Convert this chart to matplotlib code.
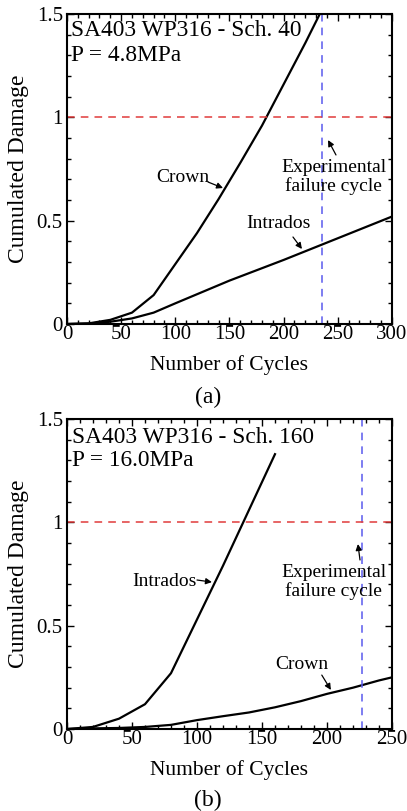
import matplotlib
matplotlib.use("Agg")
from matplotlib import pyplot as plt
from matplotlib.ticker import MultipleLocator

plt.rcParams['font.family'] = ['Liberation Serif', 'DejaVu Serif']
FS = 14          # annotation labels
FS_TICK = 15
FS_LAB = 15.5
FS_TITLE = 16.8

# panel (a): Sch. 40, P = 4.8 MPa
cyc_a = [0, 20, 40, 60, 80, 100, 120, 140, 160, 180, 200, 220, 240]
crown_a = [0, 0.003, 0.02, 0.055, 0.14, 0.29, 0.44, 0.605, 0.78, 0.96, 1.16, 1.36, 1.57]
cyc_a2 = [0, 20, 40, 60, 80, 100, 150, 200, 250, 300]
intra_a = [0, 0.002, 0.011, 0.027, 0.055, 0.10, 0.21, 0.31, 0.415, 0.52]
fail_a = 235

# panel (b): Sch. 160, P = 16.0 MPa
cyc_b = [0, 20, 40, 60, 80, 100, 120, 140, 160]
intra_b = [0, 0.01, 0.05, 0.12, 0.27, 0.53, 0.79, 1.06, 1.33]
cyc_b2 = [0, 20, 40, 60, 80, 100, 120, 140, 160, 180, 200, 220, 240, 250]
crown_b = [0, 0.003, 0.005, 0.01, 0.02, 0.043, 0.062, 0.08, 0.105, 0.135, 0.17, 0.20, 0.235, 0.25]
fail_b = 227

fig = plt.figure(figsize=(4.07, 8.11), dpi=100)
ax1 = fig.add_axes([0.1646, 0.6005, 0.7985, 0.3822])
ax2 = fig.add_axes([0.1646, 0.1011, 0.7985, 0.3822])

arrow = dict(arrowstyle='-|>', color='k', lw=0.9, mutation_scale=9, shrinkA=0, shrinkB=0)


def style(ax, xmax):
    ax.set_xlim(0, xmax)
    ax.set_ylim(0, 1.5)
    ax.xaxis.set_major_locator(MultipleLocator(50))
    ax.xaxis.set_minor_locator(MultipleLocator(10))
    ax.yaxis.set_major_locator(MultipleLocator(0.5))
    ax.yaxis.set_minor_locator(MultipleLocator(0.1))
    ax.yaxis.set_major_formatter(plt.FuncFormatter(lambda v, p: '%g' % v))
    ax.tick_params(which='both', direction='in', top=True, right=True, labelsize=FS_TICK)
    ax.tick_params(axis='x', pad=1)
    ax.tick_params(axis='y', pad=3)
    ax.tick_params(which='major', length=5, width=1)
    ax.tick_params(which='minor', length=3, width=1)
    for s in ax.spines.values():
        s.set_linewidth(1.5)
    ax.set_xlabel('Number of Cycles', fontsize=FS_LAB, labelpad=8)
    ax.set_ylabel('Cumulated Damage', fontsize=17)
    ax.yaxis.set_label_coords(-0.118, 0.5)
    ax.axhline(1.0, color='#e03a3a', lw=1.1, ls=(0, (5, 4)))


# ---- (a)
ax1.plot(cyc_a, crown_a, color='k', lw=1.6)
ax1.plot(cyc_a2, intra_a, color='k', lw=1.6)
ax1.axvline(fail_a, color='#5a5aee', lw=1.1, ls=(0, (5, 4)))
style(ax1, 300)
ax1.text(4, 1.418, 'SA403 WP316 - Sch. 40', fontsize=FS_TITLE, ha='left', va='center')
ax1.text(4, 1.30, 'P = 4.8MPa', fontsize=FS_TITLE, ha='left', va='center')
ax1.text(106.6, 0.711, 'Crown', fontsize=FS, ha='center', va='center')
ax1.annotate('', xy=(144, 0.658), xytext=(130.2, 0.687), arrowprops=arrow)
ax1.text(195, 0.484, 'Intrados', fontsize=FS, ha='center', va='center')
ax1.annotate('', xy=(216.9, 0.363), xytext=(208.6, 0.421), arrowprops=arrow)
ax1.text(246, 0.711, 'Experimental\nfailure cycle', fontsize=FS, ha='center', va='center',
         linespacing=1.05)
ax1.annotate('', xy=(241, 0.89), xytext=(248.3, 0.818), arrowprops=arrow)

# ---- (b)
ax2.plot(cyc_b, intra_b, color='k', lw=1.6)
ax2.plot(cyc_b2, crown_b, color='k', lw=1.6)
ax2.axvline(fail_b, color='#5a5aee', lw=1.1, ls=(0, (5, 4)))
style(ax2, 250)
ax2.text(3.8, 1.413, 'SA403 WP316 - Sch. 160', fontsize=FS_TITLE, ha='left', va='center')
ax2.text(3.8, 1.301, 'P = 16.0MPa', fontsize=FS_TITLE, ha='left', va='center')
ax2.text(74.6, 0.716, 'Intrados', fontsize=FS, ha='center', va='center')
ax2.annotate('', xy=(111.5, 0.711), xytext=(100, 0.721), arrowprops=arrow)
ax2.text(181, 0.314, 'Crown', fontsize=FS, ha='center', va='center')
ax2.annotate('', xy=(203, 0.189), xytext=(196, 0.261), arrowprops=arrow)
ax2.text(205, 0.711, 'Experimental\nfailure cycle', fontsize=FS, ha='center', va='center',
         linespacing=1.05)
ax2.annotate('', xy=(223.8, 0.895), xytext=(225.4, 0.818), arrowprops=arrow)

fig.text(0.511, 1 - 397 / 811, '(a)', fontsize=FS_LAB + 1.5, ha='center', va='center')
fig.text(0.511, 1 - 800 / 811, '(b)', fontsize=FS_LAB + 1.5, ha='center', va='center')

fig.savefig('out.png', dpi=100)
